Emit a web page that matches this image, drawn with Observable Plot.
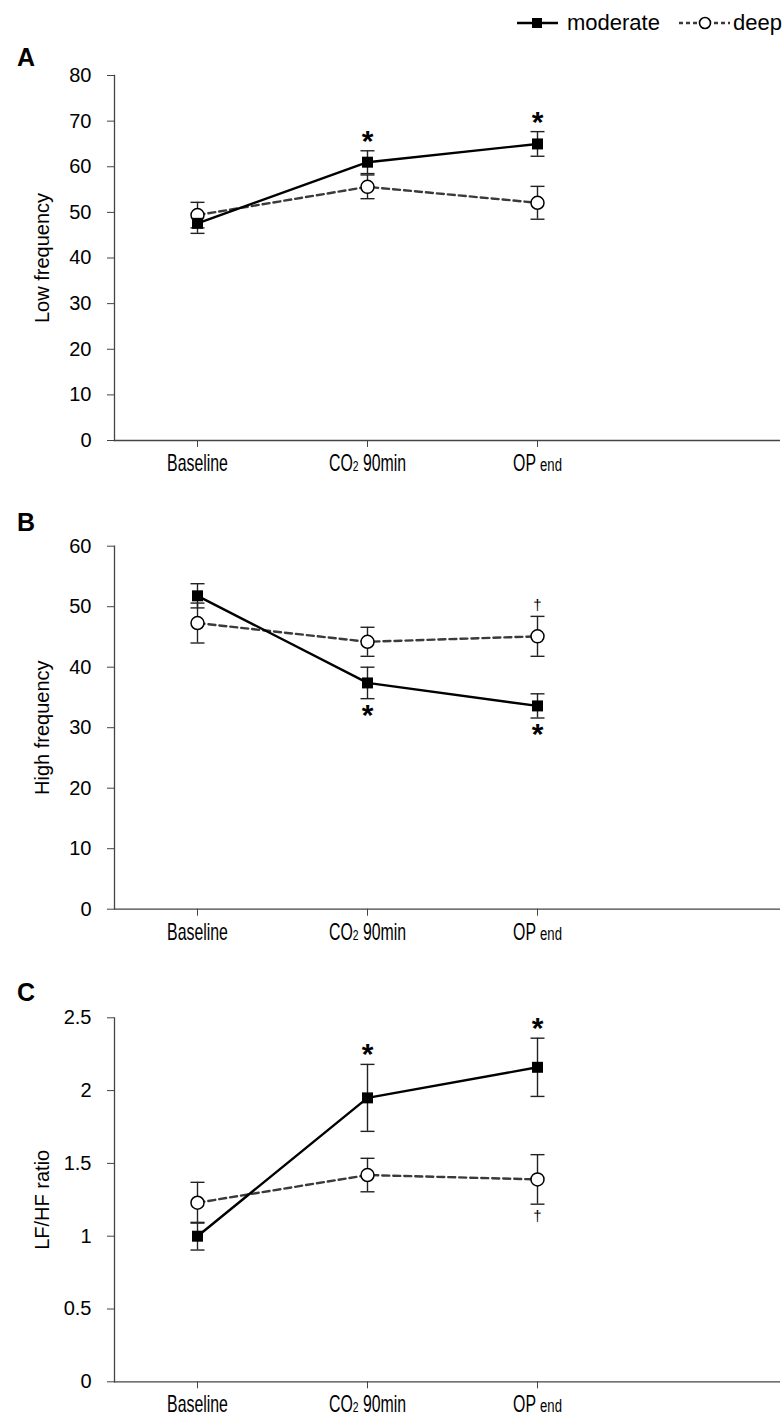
<!DOCTYPE html>
<html><head><meta charset="utf-8">
<script src="https://cdn.jsdelivr.net/npm/d3@7"></script>
<script src="https://cdn.jsdelivr.net/npm/@observablehq/plot@0.6"></script>
<style>
body{margin:0;background:#fff;}
#wrap{position:relative;width:783px;height:1419px;font-family:"Liberation Sans",Arial,sans-serif;overflow:hidden;}
.panel{position:absolute;left:0;}
.letter{position:absolute;left:17px;font-weight:bold;font-size:25px;line-height:1;}
#legend{position:absolute;left:0;top:0;}
</style></head><body><div id="wrap"></div>
<script>
// ---- data ----
const times = ["Baseline", "CO2 90min", "OP end"];
const seriesNames = ["moderate", "deep"];

const lfModerate = [47.6, 61.0, 65.0];
const lfModerateErr = [2.2, 2.5, 2.7];
const lfDeep = [49.4, 55.6, 52.1];
const lfDeepErr = [2.8, 2.6, 3.6];

const hfModerate = [51.8, 37.4, 33.6];
const hfModerateErr = [2.0, 2.6, 2.0];
const hfDeep = [47.3, 44.2, 45.1];
const hfDeepErr = [3.3, 2.4, 3.3];

const ratioModerate = [1.0, 1.95, 2.16];
const ratioModerateErr = [0.095, 0.23, 0.2];
const ratioDeep = [1.23, 1.42, 1.39];
const ratioDeepErr = [0.14, 0.115, 0.17];

const yTicksA = [0, 10, 20, 30, 40, 50, 60, 70, 80];
const yTicksB = [0, 10, 20, 30, 40, 50, 60];
const yTicksC = [0, 0.5, 1, 1.5, 2, 2.5];

// annotations: time, series, symbol, side
const annotA = [
  {time: "CO2 90min", series: "moderate", sym: "*", side: "above"},
  {time: "OP end", series: "moderate", sym: "*", side: "above"}
];
const annotB = [
  {time: "CO2 90min", series: "moderate", sym: "*", side: "below"},
  {time: "OP end", series: "moderate", sym: "*", side: "below"},
  {time: "OP end", series: "deep", sym: "†", side: "above"}
];
const annotC = [
  {time: "CO2 90min", series: "moderate", sym: "*", side: "above"},
  {time: "OP end", series: "moderate", sym: "*", side: "above"},
  {time: "OP end", series: "deep", sym: "†", side: "below"}
];

function table(mod, modErr, deep, deepErr) {
  const rows = [];
  times.forEach((t, i) => rows.push({time: t, series: "moderate", value: mod[i], err: modErr[i]}));
  times.forEach((t, i) => rows.push({time: t, series: "deep", value: deep[i], err: deepErr[i]}));
  return rows;
}

const AX = "#444";
const W = 783;
const capSymbol = {draw(ctx, size) { const w = Math.sqrt(size / Math.PI); ctx.moveTo(-w, 0); ctx.lineTo(w, 0); }};

function panel({rows, annot, domain, ticks, label, top, height, mTop, mBottom}) {
  const mod = rows.filter(d => d.series === "moderate");
  const deep = rows.filter(d => d.series === "deep");
  const look = (a) => rows.find(r => r.time === a.time && r.series === a.series);
  const ann = annot.map(a => {
    const r = look(a);
    return {...a, y: a.side === "above" ? r.value + r.err : r.value - r.err};
  });
  const starAbove = ann.filter(a => a.sym === "*" && a.side === "above");
  const starBelow = ann.filter(a => a.sym === "*" && a.side === "below");
  const dagAbove = ann.filter(a => a.sym === "†" && a.side === "above");
  const dagBelow = ann.filter(a => a.sym === "†" && a.side === "below");

  const p = Plot.plot({
    width: W, height,
    marginLeft: 114, marginRight: 3, marginTop: mTop, marginBottom: mBottom,
    style: {fontFamily: '"Liberation Sans", Arial, sans-serif', background: "transparent", overflow: "visible"},
    x: {type: "point", domain: times, range: [196, 537], padding: 0},
    y: {domain, ticks},
    marks: [
      Plot.axisY({ticks, tickSize: 7, tickPadding: 16, fontSize: 20, stroke: AX, color: "#000",
        tickFormat: d => String(d), label, labelAnchor: "center", labelOffset: 80, labelArrow: "none"}),
      Plot.axisX({tickSize: 7, tickPadding: 7, fontSize: 23, stroke: AX, color: "#000", label: null}),
      Plot.frame({anchor: "left", stroke: AX, strokeWidth: 1.3}),
      Plot.ruleY([domain[0]], {stroke: AX, strokeWidth: 1.3}),
      Plot.line(deep, {x: "time", y: "value", stroke: "#3a3a3a", strokeWidth: 2.4, strokeDasharray: "7,4"}),
      Plot.line(mod, {x: "time", y: "value", stroke: "#000", strokeWidth: 2.4}),
      Plot.ruleX(rows, {x: "time", y1: d => d.value - d.err, y2: d => d.value + d.err, stroke: "#222", strokeWidth: 1.4}),
      Plot.dot(rows, {x: "time", y: d => d.value + d.err, symbol: capSymbol, r: 7, fill: "none", stroke: "#222", strokeWidth: 1.4}),
      Plot.dot(rows, {x: "time", y: d => d.value - d.err, symbol: capSymbol, r: 7, fill: "none", stroke: "#222", strokeWidth: 1.4}),
      Plot.dot(deep, {x: "time", y: "value", r: 6.5, fill: "white", stroke: "#000", strokeWidth: 1.5}),
      Plot.dot(mod, {x: "time", y: "value", symbol: "square", r: 6.2, fill: "#000"}),
      Plot.text(starAbove, {x: "time", y: "y", text: "sym", dy: 0, fontSize: 30, fontWeight: "bold", lineAnchor: "bottom", fill: "#000"}),
      Plot.text(starBelow, {x: "time", y: "y", text: "sym", dy: 26, fontSize: 30, fontWeight: "bold", lineAnchor: "bottom", fill: "#000"}),
      Plot.text(dagAbove, {x: "time", y: "y", text: "sym", dy: -6, fontSize: 15, lineAnchor: "bottom", fill: "#000"}),
      Plot.text(dagBelow, {x: "time", y: "y", text: "sym", dy: 6, fontSize: 15, lineAnchor: "top", fill: "#000"})
    ]
  });
  // subscript / small text in tick labels, condensed like the original
  d3.select(p).selectAll('[aria-label="x-axis tick label"] text').each(function() {
    const sel = d3.select(this);
    const t = sel.text();
    if (t === "CO2 90min") {
      sel.text(null).call(s => {
        s.append("tspan").text("CO");
        s.append("tspan").attr("font-size", 15).text("2");
        s.append("tspan").text(" 90min");
      });
    } else if (t === "OP end") {
      sel.text(null).call(s => {
        s.append("tspan").text("OP ");
        s.append("tspan").attr("font-size", 19).text("end");
      });
    }
    const tr = sel.attr("transform") || "";
    sel.attr("transform", tr + " scale(0.69,1)");
  });
  p.classList.add("panel");
  p.style.top = top + "px";
  return p;
}

const wrap = document.getElementById("wrap");
wrap.appendChild(panel({rows: table(lfModerate, lfModerateErr, lfDeep, lfDeepErr), annot: annotA,
  domain: [0, 80], ticks: yTicksA, label: "Low frequency", top: 0, height: 480, mTop: 75, mBottom: 40}));
wrap.appendChild(panel({rows: table(hfModerate, hfModerateErr, hfDeep, hfDeepErr), annot: annotB,
  domain: [0, 60], ticks: yTicksB, label: "High frequency", top: 480, height: 470, mTop: 65.7, mBottom: 41.3}));
wrap.appendChild(panel({rows: table(ratioModerate, ratioModerateErr, ratioDeep, ratioDeepErr), annot: annotC,
  domain: [0, 2.5], ticks: yTicksC, label: "LF/HF ratio", top: 950, height: 469, mTop: 67.3, mBottom: 37.7}));

// panel letters
[["A", 45], ["B", 510], ["C", 980]].forEach(([l, y]) => {
  const d = document.createElement("div");
  d.className = "letter"; d.textContent = l; d.style.top = y + "px";
  wrap.appendChild(d);
});

// legend
const leg = d3.select(wrap).append("svg").attr("id", "legend").attr("width", W).attr("height", 45);
const g1 = leg.append("g");
g1.append("line").attr("x1", 517).attr("x2", 558).attr("y1", 23).attr("y2", 23).attr("stroke", "#000").attr("stroke-width", 2.4);
g1.append("rect").attr("x", 532).attr("y", 18).attr("width", 10).attr("height", 10).attr("fill", "#000");
g1.append("text").attr("x", 567).attr("y", 30).attr("font-size", 22).text(seriesNames[0]);
const g2 = leg.append("g");
g2.append("line").attr("x1", 679).attr("x2", 730).attr("y1", 23).attr("y2", 23).attr("stroke", "#3a3a3a").attr("stroke-width", 2.4).attr("stroke-dasharray", "4,3");
g2.append("circle").attr("cx", 705).attr("cy", 23).attr("r", 5.5).attr("fill", "white").attr("stroke", "#000").attr("stroke-width", 1.6);
g2.append("text").attr("x", 733).attr("y", 30).attr("font-size", 22).text(seriesNames[1]);
</script></body></html>
